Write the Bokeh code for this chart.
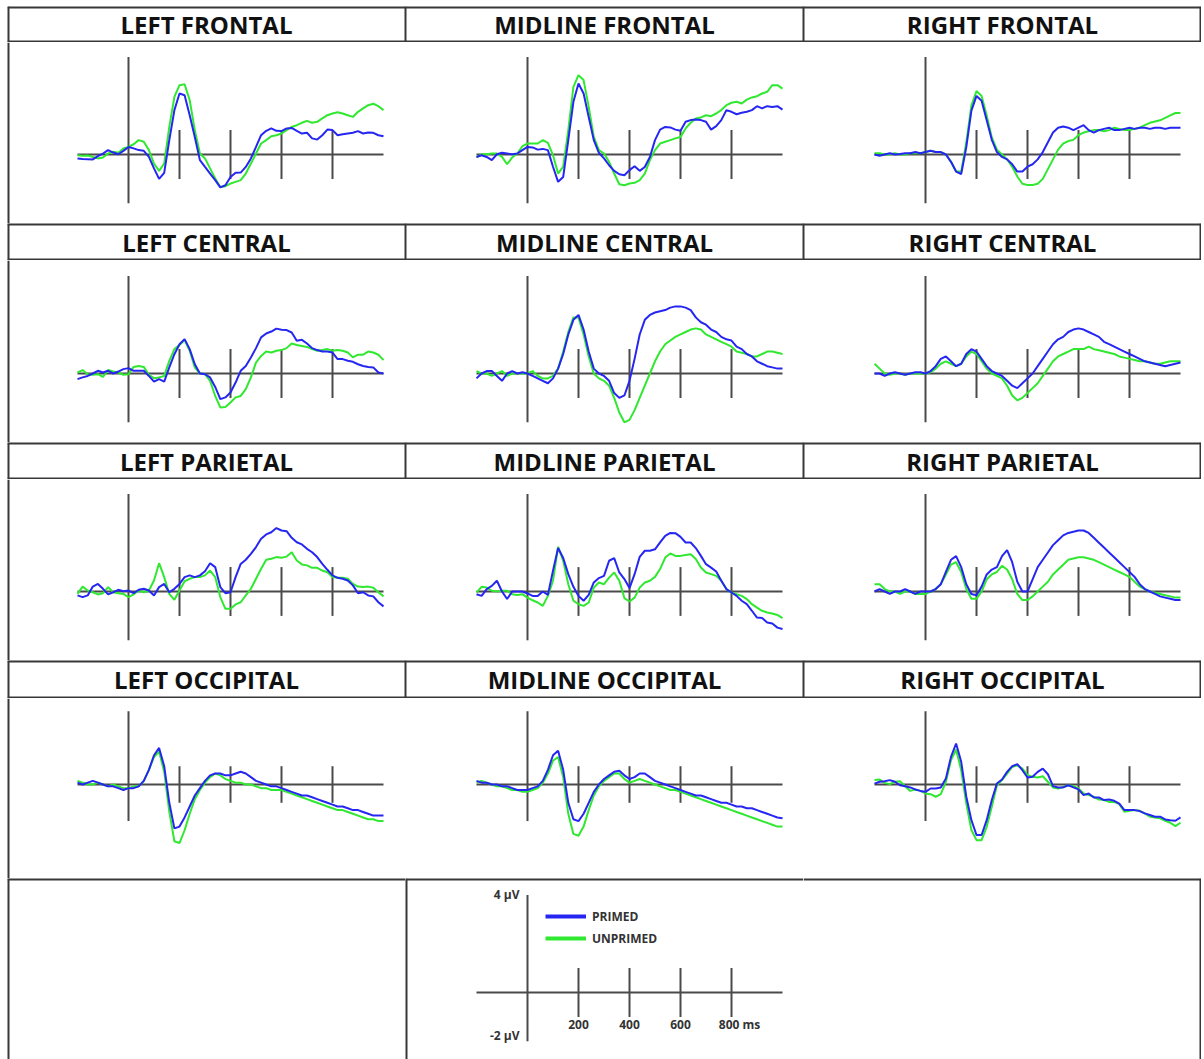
from bokeh.plotting import figure
from bokeh.layouts import column, row
from bokeh.models import Range1d, Legend, LegendItem, Spacer
from bokeh.core.properties import value
from bokeh.embed import file_html
from bokeh.resources import INLINE

# ---------------- data ----------------
times_ms = list(range(-200, 1001, 20))
tick_ms = [200, 400, 600, 800]
tick_labels = ["200", "400", "600", "800 ms"]
time_start, time_end = -200, 1000
volt_min, volt_max = -2, 4
tick_half = 1
volt_labels = ["4 \u00b5V", "-2 \u00b5V"]
series_names = ["PRIMED", "UNPRIMED"]

row_titles = [
    ["LEFT FRONTAL", "MIDLINE FRONTAL", "RIGHT FRONTAL"],
    ["LEFT CENTRAL", "MIDLINE CENTRAL", "RIGHT CENTRAL"],
    ["LEFT PARIETAL", "MIDLINE PARIETAL", "RIGHT PARIETAL"],
    ["LEFT OCCIPITAL", "MIDLINE OCCIPITAL", "RIGHT OCCIPITAL"],
]

lf_primed = [-0.16, -0.18, -0.19, -0.20, -0.07, 0.04, 0.18, 0.08, 0.01, 0.15,
             0.31, 0.25, 0.18, 0.15, -0.10, -0.57, -1.00, -0.75, 0.59, 1.82,
             2.50, 2.43, 1.61, 0.72, -0.23, -0.51, -0.78, -1.05, -1.35, -1.26,
             -0.92, -0.75, -0.74, -0.51, -0.16, 0.31, 0.79, 0.97, 1.07, 0.97,
             0.96, 1.07, 1.09, 0.97, 0.86, 0.89, 0.66, 0.61, 0.79, 1.02,
             1.00, 0.79, 0.83, 0.86, 0.89, 0.96, 0.86, 0.90, 0.89, 0.79, 0.75]
lf_unprimed = [-0.03, -0.05, -0.04, -0.10, -0.16, -0.12, 0.04, 0.11, 0.07, 0.25,
               0.31, 0.42, 0.59, 0.52, 0.18, -0.37, -0.67, -0.37, 1.13, 2.36,
               2.84, 2.88, 2.23, 1.00, 0.04, -0.16, -0.57, -0.98, -1.33, -1.30,
               -1.19, -1.12, -1.05, -0.78, -0.37, 0.04, 0.45, 0.59, 0.75, 0.79,
               0.86, 1.00, 1.13, 1.20, 1.30, 1.38, 1.30, 1.34, 1.48, 1.61,
               1.68, 1.73, 1.68, 1.61, 1.54, 1.75, 1.89, 2.02, 2.08, 1.98, 1.82]

mf_primed = [-0.10, -0.03, -0.10, -0.23, 0.01, 0.07, 0.04, 0.01, 0.04, 0.18,
             0.31, 0.29, 0.20, 0.23, 0.18, -0.50, -1.12, -0.92, 0.59, 2.16,
             2.91, 2.50, 1.54, 0.59, 0.07, -0.16, -0.44, -0.67, -0.81, -0.85,
             -0.64, -0.48, -0.67, -0.51, -0.10, 0.59, 1.02, 1.13, 1.11, 1.02,
             0.97, 1.34, 1.41, 1.43, 1.41, 1.34, 1.02, 1.16, 1.41, 1.82,
             1.75, 1.65, 1.71, 1.75, 1.82, 1.98, 1.89, 1.98, 1.95, 1.98, 1.84]
mf_unprimed = [-0.12, 0.01, 0.01, 0.04, 0.04, -0.10, -0.40, -0.12, 0.04, 0.34,
               0.45, 0.45, 0.45, 0.59, 0.48, -0.03, -0.78, -0.50, 1.00, 2.77,
               3.25, 3.05, 1.95, 0.72, 0.18, 0.04, -0.30, -0.78, -1.22, -1.26,
               -1.19, -1.16, -1.05, -0.78, -0.23, 0.18, 0.45, 0.52, 0.59, 0.66,
               0.72, 1.07, 1.30, 1.48, 1.52, 1.61, 1.57, 1.68, 1.82, 2.02,
               2.12, 2.16, 2.09, 2.25, 2.34, 2.39, 2.50, 2.57, 2.84, 2.84, 2.70]

rf_primed = [0.00, -0.05, 0.00, 0.05, 0.00, 0.02, 0.05, 0.05, 0.10, 0.05,
             0.10, 0.15, 0.10, 0.10, 0.00, -0.30, -0.70, -0.80, 0.30, 1.80,
             2.40, 2.20, 1.40, 0.60, 0.10, -0.10, -0.20, -0.40, -0.70, -0.70,
             -0.50, -0.40, -0.20, 0.10, 0.50, 0.90, 1.10, 1.15, 1.10, 1.00,
             1.10, 1.20, 1.00, 0.90, 1.00, 1.05, 1.10, 1.00, 1.00, 1.05,
             1.10, 1.05, 1.10, 1.10, 1.05, 1.10, 1.10, 1.05, 1.10, 1.10, 1.10]
rf_unprimed = [0.05, 0.05, 0.00, 0.00, 0.05, 0.00, 0.00, 0.05, 0.05, 0.05,
               0.10, 0.15, 0.10, 0.10, 0.00, -0.30, -0.70, -0.70, 0.50, 2.00,
               2.60, 2.40, 1.60, 0.70, 0.20, 0.00, -0.20, -0.50, -0.90, -1.20,
               -1.25, -1.25, -1.20, -1.00, -0.60, -0.20, 0.20, 0.45, 0.55, 0.60,
               0.80, 0.90, 0.95, 1.00, 1.00, 0.95, 1.00, 1.10, 1.05, 1.00,
               1.00, 1.05, 1.10, 1.20, 1.30, 1.35, 1.40, 1.50, 1.60, 1.70, 1.70]

lc_primed = [-0.23, -0.16, -0.10, 0.00, 0.11, 0.04, 0.11, 0.00, 0.08, 0.18,
             0.22, 0.11, 0.11, 0.11, -0.10, -0.33, -0.23, -0.33, 0.25, 0.79,
             1.20, 1.41, 1.00, 0.38, 0.00, -0.03, -0.16, -0.55, -1.05, -0.98,
             -0.78, -0.37, 0.11, 0.31, 0.66, 1.04, 1.48, 1.64, 1.72, 1.84,
             1.79, 1.78, 1.68, 1.34, 1.38, 1.23, 1.04, 0.96, 0.90, 0.90,
             0.86, 0.59, 0.59, 0.52, 0.48, 0.38, 0.31, 0.27, 0.25, 0.04, 0.00]
lc_unprimed = [0.04, 0.14, -0.03, -0.05, -0.03, -0.14, 0.14, 0.08, 0.04, -0.05,
               -0.03, 0.27, 0.31, 0.27, -0.05, -0.19, -0.16, -0.10, 0.52, 1.00,
               1.17, 1.37, 0.93, 0.25, 0.00, -0.03, -0.30, -0.92, -1.39, -1.37,
               -1.19, -0.98, -0.92, -0.64, -0.16, 0.45, 0.72, 0.90, 0.86, 0.93,
               0.96, 1.04, 1.23, 1.17, 1.13, 1.09, 1.00, 0.93, 0.96, 1.00,
               0.93, 0.96, 0.93, 0.86, 0.66, 0.77, 0.77, 0.90, 0.86, 0.77, 0.55]

mc_primed = [-0.20, 0.00, 0.10, 0.10, -0.10, -0.30, 0.00, 0.10, 0.00, 0.05,
             0.00, -0.10, -0.20, -0.30, -0.40, -0.20, 0.20, 0.80, 1.60, 2.20,
             2.40, 1.80, 0.90, 0.20, 0.00, -0.10, -0.30, -0.80, -1.00, -0.90,
             -0.30, 0.60, 1.60, 2.20, 2.40, 2.50, 2.55, 2.60, 2.70, 2.75,
             2.75, 2.70, 2.60, 2.30, 2.10, 2.00, 1.80, 1.70, 1.50, 1.40,
             1.35, 1.10, 1.00, 0.80, 0.70, 0.50, 0.40, 0.30, 0.25, 0.20, 0.20]
mc_unprimed = [0.10, 0.00, 0.00, -0.10, 0.00, 0.10, -0.10, 0.00, 0.00, 0.00,
               0.00, 0.10, -0.10, -0.20, -0.20, -0.10, 0.20, 0.90, 1.70, 2.30,
               2.30, 1.60, 0.70, 0.00, -0.20, -0.30, -0.50, -1.00, -1.60, -2.00,
               -1.90, -1.50, -1.00, -0.50, 0.00, 0.50, 0.90, 1.20, 1.35, 1.50,
               1.60, 1.70, 1.80, 1.85, 1.80, 1.60, 1.50, 1.40, 1.30, 1.20,
               1.10, 0.90, 0.85, 0.80, 0.70, 0.70, 0.80, 0.90, 0.90, 0.85, 0.80]

rc_primed = [0.00, 0.00, -0.10, 0.00, 0.05, 0.00, -0.05, 0.00, 0.05, 0.05,
             0.00, 0.10, 0.30, 0.60, 0.70, 0.50, 0.30, 0.40, 0.80, 1.00,
             0.90, 0.60, 0.30, 0.10, 0.00, -0.10, -0.30, -0.50, -0.60, -0.40,
             -0.20, 0.00, 0.30, 0.60, 0.90, 1.20, 1.40, 1.50, 1.70, 1.80,
             1.85, 1.80, 1.70, 1.60, 1.50, 1.30, 1.20, 1.10, 1.00, 0.90,
             0.80, 0.70, 0.60, 0.50, 0.45, 0.40, 0.35, 0.30, 0.35, 0.40, 0.45]
rc_unprimed = [0.40, 0.20, 0.00, -0.05, 0.00, 0.00, -0.05, 0.00, 0.00, 0.00,
               0.00, 0.05, 0.20, 0.40, 0.50, 0.40, 0.30, 0.40, 0.70, 0.90,
               0.80, 0.50, 0.20, 0.00, -0.10, -0.20, -0.50, -0.90, -1.10, -1.00,
               -0.80, -0.60, -0.40, -0.10, 0.20, 0.50, 0.70, 0.80, 0.90, 1.00,
               1.00, 1.00, 1.10, 1.00, 0.95, 0.90, 0.85, 0.80, 0.70, 0.65,
               0.60, 0.55, 0.50, 0.50, 0.45, 0.40, 0.40, 0.45, 0.50, 0.50, 0.50]

lp_primed = [-0.16, -0.23, -0.16, 0.20, 0.31, 0.11, -0.12, -0.03, 0.07, 0.01,
             0.04, -0.07, 0.07, 0.11, 0.04, -0.16, 0.18, 0.31, -0.03, 0.11,
             0.31, 0.59, 0.66, 0.59, 0.66, 0.83, 1.16, 1.00, 0.18, -0.07,
             -0.03, 0.59, 1.13, 1.30, 1.54, 1.82, 2.16, 2.34, 2.43, 2.60,
             2.50, 2.47, 2.20, 2.02, 1.93, 1.75, 1.61, 1.41, 1.13, 0.89,
             0.66, 0.56, 0.52, 0.45, 0.25, -0.07, -0.03, -0.16, -0.20, -0.44, -0.61]
lp_unprimed = [-0.10, 0.20, 0.04, -0.03, -0.12, -0.07, 0.18, -0.03, -0.07, -0.10,
               -0.23, -0.12, 0.04, -0.03, 0.04, 0.45, 1.16, 0.59, -0.10, -0.34,
               0.04, 0.42, 0.52, 0.59, 0.59, 0.66, 0.86, 0.59, -0.23, -0.71,
               -0.71, -0.53, -0.44, -0.16, 0.11, 0.52, 0.93, 1.30, 1.34, 1.41,
               1.38, 1.43, 1.61, 1.27, 1.11, 1.07, 0.97, 0.97, 0.86, 0.79,
               0.59, 0.56, 0.56, 0.52, 0.31, 0.20, 0.18, 0.20, 0.15, -0.03, -0.20]

mp_primed = [-0.11, -0.18, 0.10, 0.23, 0.44, 0.00, -0.31, 0.00, 0.00, 0.00,
             -0.08, -0.18, -0.18, 0.00, -0.14, 0.85, 1.78, 1.37, 0.71, 0.19,
             -0.18, -0.38, -0.14, 0.37, 0.55, 0.64, 1.26, 1.37, 0.78, 0.51,
             0.14, 0.71, 1.42, 1.67, 1.67, 1.73, 2.01, 2.28, 2.40, 2.39,
             2.24, 2.01, 2.01, 1.78, 1.46, 1.12, 0.98, 0.82, 0.44, 0.10,
             -0.04, -0.18, -0.38, -0.52, -0.79, -1.07, -1.09, -1.27, -1.31, -1.48, -1.54]
mp_unprimed = [-0.04, 0.19, 0.16, 0.03, 0.00, 0.03, 0.03, -0.11, -0.14, -0.11,
               -0.25, -0.36, -0.45, -0.59, -0.18, 0.44, 1.83, 1.26, 0.30, -0.38,
               -0.52, -0.59, -0.45, 0.16, 0.37, 0.30, 0.57, 0.78, 0.44, -0.27,
               -0.41, -0.25, 0.16, 0.37, 0.44, 0.60, 0.92, 1.39, 1.56, 1.46,
               1.46, 1.50, 1.53, 1.33, 0.98, 0.78, 0.71, 0.64, 0.44, 0.10,
               -0.04, -0.11, -0.18, -0.31, -0.52, -0.66, -0.79, -0.86, -0.90, -0.96, -1.09]

rp_primed = [0.00, 0.10, 0.00, -0.10, 0.00, 0.00, 0.10, 0.00, -0.10, 0.00,
             0.00, 0.00, 0.10, 0.30, 0.80, 1.30, 1.45, 1.00, 0.30, -0.10,
             -0.15, 0.20, 0.70, 0.90, 1.00, 1.45, 1.70, 1.20, 0.40, 0.00,
             0.00, 0.50, 1.00, 1.30, 1.60, 1.90, 2.10, 2.30, 2.40, 2.45,
             2.50, 2.50, 2.40, 2.20, 2.00, 1.80, 1.60, 1.40, 1.20, 1.00,
             0.80, 0.60, 0.30, 0.10, 0.00, -0.10, -0.20, -0.25, -0.30, -0.35, -0.35]
rp_unprimed = [0.30, 0.30, 0.10, 0.00, 0.00, -0.10, 0.00, 0.00, -0.10, -0.10,
               -0.10, 0.00, 0.10, 0.30, 0.70, 1.10, 1.20, 0.80, 0.10, -0.30,
               -0.30, 0.00, 0.50, 0.70, 0.80, 1.05, 0.90, 0.50, -0.10, -0.35,
               -0.35, -0.20, 0.00, 0.20, 0.40, 0.70, 0.90, 1.10, 1.30, 1.35,
               1.40, 1.40, 1.35, 1.30, 1.20, 1.10, 1.00, 0.90, 0.80, 0.70,
               0.60, 0.40, 0.20, 0.10, 0.00, -0.05, -0.10, -0.15, -0.20, -0.25, -0.25]

lo_primed = [0.10, 0.00, 0.10, 0.20, 0.10, 0.00, -0.10, -0.10, -0.20, -0.30,
             -0.20, -0.20, -0.10, 0.20, 0.80, 1.60, 2.00, 1.00, -1.00, -2.40,
             -2.30, -1.80, -1.20, -0.60, -0.20, 0.20, 0.50, 0.60, 0.60, 0.50,
             0.50, 0.60, 0.70, 0.60, 0.40, 0.20, 0.10, 0.00, -0.10, -0.10,
             -0.20, -0.30, -0.40, -0.50, -0.60, -0.60, -0.70, -0.80, -0.90, -1.00,
             -1.10, -1.20, -1.20, -1.30, -1.40, -1.40, -1.50, -1.60, -1.70, -1.70, -1.70]
lo_unprimed = [0.20, 0.10, 0.00, 0.00, 0.10, 0.00, -0.10, 0.00, -0.10, -0.20,
               -0.20, -0.10, -0.10, 0.20, 0.80, 1.50, 1.80, 0.70, -1.50, -3.10,
               -3.20, -2.50, -1.60, -0.80, -0.30, 0.10, 0.40, 0.60, 0.50, 0.30,
               0.20, 0.10, 0.10, 0.00, 0.00, -0.10, -0.20, -0.20, -0.30, -0.30,
               -0.30, -0.40, -0.50, -0.60, -0.70, -0.80, -0.90, -1.00, -1.10, -1.20,
               -1.30, -1.40, -1.40, -1.50, -1.60, -1.70, -1.80, -1.90, -1.90, -2.00, -2.00]

mo_primed = [0.20, 0.10, 0.10, 0.00, 0.00, -0.10, -0.10, -0.20, -0.30, -0.30,
             -0.30, -0.20, -0.10, 0.20, 0.80, 1.60, 1.85, 0.80, -1.00, -1.90,
             -2.00, -1.60, -1.00, -0.40, 0.00, 0.30, 0.50, 0.70, 0.75, 0.50,
             0.30, 0.40, 0.60, 0.60, 0.40, 0.20, 0.10, 0.00, -0.10, -0.20,
             -0.30, -0.40, -0.50, -0.60, -0.60, -0.70, -0.80, -0.90, -1.00, -1.00,
             -1.10, -1.20, -1.20, -1.30, -1.30, -1.40, -1.50, -1.60, -1.70, -1.80, -1.85]
mo_unprimed = [0.10, 0.20, 0.10, 0.00, -0.10, -0.10, -0.20, -0.30, -0.30, -0.40,
               -0.40, -0.30, -0.20, 0.10, 0.60, 1.30, 1.50, 0.40, -1.60, -2.70,
               -2.80, -2.30, -1.40, -0.60, -0.10, 0.20, 0.40, 0.60, 0.60, 0.30,
               0.10, 0.20, 0.30, 0.20, 0.10, 0.00, -0.10, -0.20, -0.30, -0.30,
               -0.40, -0.50, -0.60, -0.70, -0.80, -0.90, -1.00, -1.10, -1.20, -1.30,
               -1.40, -1.50, -1.60, -1.70, -1.80, -1.90, -2.00, -2.10, -2.20, -2.30, -2.30]

ro_primed = [0.05, 0.15, 0.18, 0.24, 0.15, -0.04, -0.09, -0.16, -0.27, -0.35,
             -0.40, -0.22, -0.22, -0.16, 0.33, 1.51, 2.24, 1.24, -0.67, -1.95,
             -2.76, -2.76, -1.95, -0.85, 0.05, 0.27, 0.69, 1.00, 1.11, 0.78,
             0.38, 0.42, 0.69, 0.87, 0.56, -0.09, -0.16, -0.16, -0.04, -0.16,
             -0.27, -0.58, -0.49, -0.71, -0.71, -0.85, -0.82, -0.89, -1.04, -1.40,
             -1.40, -1.40, -1.45, -1.58, -1.67, -1.76, -1.76, -1.91, -1.95, -1.98, -1.80]
ro_unprimed = [0.24, 0.27, 0.09, 0.02, 0.15, 0.18, -0.09, -0.35, -0.27, -0.35,
               -0.49, -0.53, -0.67, -0.53, 0.15, 1.33, 1.91, 0.78, -1.04, -2.49,
               -3.04, -3.04, -2.31, -1.22, -0.04, 0.24, 0.60, 0.96, 1.05, 0.87,
               0.51, 0.42, 0.38, 0.45, 0.15, -0.16, -0.22, -0.13, -0.04, -0.09,
               -0.22, -0.49, -0.58, -0.67, -0.82, -0.85, -0.95, -0.95, -1.07, -1.49,
               -1.44, -1.40, -1.44, -1.58, -1.76, -1.80, -1.85, -1.98, -2.09, -2.27, -2.09]

panel_series = {
    "LEFT FRONTAL": (lf_primed, lf_unprimed),
    "MIDLINE FRONTAL": (mf_primed, mf_unprimed),
    "RIGHT FRONTAL": (rf_primed, rf_unprimed),
    "LEFT CENTRAL": (lc_primed, lc_unprimed),
    "MIDLINE CENTRAL": (mc_primed, mc_unprimed),
    "RIGHT CENTRAL": (rc_primed, rc_unprimed),
    "LEFT PARIETAL": (lp_primed, lp_unprimed),
    "MIDLINE PARIETAL": (mp_primed, mp_unprimed),
    "RIGHT PARIETAL": (rp_primed, rp_unprimed),
    "LEFT OCCIPITAL": (lo_primed, lo_unprimed),
    "MIDLINE OCCIPITAL": (mo_primed, mo_unprimed),
    "RIGHT OCCIPITAL": (ro_primed, ro_unprimed),
}

# ---------------- style / layout ----------------
BLUE = "#2626f2"
GREEN = "#30e830"
AXIS = "#4a4a4a"
BORDER = "#383838"
FONT = "Open Sans"

PAD_LEFT = 7
PAD_TOP = 6
COL_W = 398
HEAD_H = [36, 37, 37, 38]
PLOT_H = [181, 182, 181, 180]
LEG_H = 181
PX_PER_MS = 0.255
PX_PER_UV = [24.4, 24.4, 24.4, 18.3]
BASE_FROM_TOP = [112, 113, 112, 86]
ZERO_FROM_LEFT = [121, 122, 122]
LEG_PX_PER_UV = 24.4
LEG_BASE_FROM_TOP = 114


def blank(w, h, xr, yr):
    p = figure(width=w, height=h, x_range=xr, y_range=yr,
               output_backend="svg", toolbar_location=None,
               min_border=0, x_axis_location=None, y_axis_location=None)
    p.grid.visible = False
    p.outline_line_color = None
    p.background_fill_color = "white"
    p.border_fill_color = "white"
    return p


def x_range_for(col):
    z = ZERO_FROM_LEFT[col]
    return Range1d(-z / PX_PER_MS, (COL_W - z) / PX_PER_MS)


def draw_axes(p):
    p.segment(x0=[time_start], y0=[0], x1=[time_end], y1=[0],
              line_color=AXIS, line_width=2)
    p.segment(x0=[0], y0=[volt_min], x1=[0], y1=[volt_max],
              line_color=AXIS, line_width=2)
    p.segment(x0=tick_ms, y0=[-tick_half] * len(tick_ms), x1=tick_ms,
              y1=[tick_half] * len(tick_ms), line_color=AXIS, line_width=2)


def header_row(titles, h):
    n = len(titles)
    p = blank(COL_W * n, h, Range1d(0, n), Range1d(0, 1))
    xs = list(range(n + 1))
    widths = [4 if (x == 0 or x == n) else 2 for x in xs]
    p.segment(x0=xs, y0=[0] * len(xs), x1=xs, y1=[1] * len(xs),
              line_color=BORDER, line_width=widths)
    p.segment(x0=[0, 0], y0=[0, 1], x1=[n, n], y1=[0, 1],
              line_color=BORDER, line_width=4)
    p.text(x=[i + 0.5 for i in range(n)], y=[0.5] * n, text=titles,
           text_font=value(FONT), text_font_style="bold",
           text_font_size="24px", text_align="center",
           text_baseline="middle", text_color="#111111")
    return p


def panel(title, r, c):
    s = PX_PER_UV[r]
    b = BASE_FROM_TOP[r]
    h = PLOT_H[r]
    yr = Range1d(-(h - b) / s, b / s)
    xr = x_range_for(c)
    p = blank(COL_W, h, xr, yr)
    if c == 0:
        p.segment(x0=[xr.start], y0=[yr.start], x1=[xr.start], y1=[yr.end],
                  line_color=BORDER, line_width=4)
    draw_axes(p)
    primed, unprimed = panel_series[title]
    p.line(times_ms, unprimed, line_color=GREEN, line_width=2)
    p.line(times_ms, primed, line_color=BLUE, line_width=2)
    return p


rows = []
for r, titles in enumerate(row_titles):
    rows.append(header_row(titles, HEAD_H[r]))
    rows.append(row(*[panel(t, r, c) for c, t in enumerate(titles)]))

# legend row
s = LEG_PX_PER_UV
yr_leg = Range1d(-(LEG_H - LEG_BASE_FROM_TOP) / s, LEG_BASE_FROM_TOP / s)

left = blank(COL_W, LEG_H, Range1d(0, 1), Range1d(0, 1))
left.segment(x0=[0, 0], y0=[1, 0], x1=[1, 0], y1=[1, 1],
             line_color=BORDER, line_width=4)

right = blank(COL_W, LEG_H, Range1d(0, 1), Range1d(0, 1))
right.segment(x0=[0, 1], y0=[1, 0], x1=[1, 1], y1=[1, 1],
              line_color=BORDER, line_width=4)

xr_leg = x_range_for(1)
key = blank(COL_W, LEG_H, xr_leg, yr_leg)
key.segment(x0=[xr_leg.start, xr_leg.start], y0=[yr_leg.end, yr_leg.start],
            x1=[xr_leg.end, xr_leg.start], y1=[yr_leg.end, yr_leg.end],
            line_color=BORDER, line_width=4)
draw_axes(key)
lab_y = -tick_half - 8 / s
key.text(x=tick_ms[:3], y=[lab_y] * 3, text=tick_labels[:3],
         text_font=value(FONT), text_font_style="bold", text_font_size="12px",
         text_align="center", text_baseline="middle", text_color="#333333")
key.text(x=tick_ms[3:], y=[lab_y], text=tick_labels[3:], x_offset=8,
         text_font=value(FONT), text_font_style="bold", text_font_size="12px",
         text_align="center", text_baseline="middle", text_color="#333333")
key.text(x=[0, 0], y=[volt_max, volt_min + 6 / s], text=volt_labels,
         x_offset=-8, text_font=value(FONT), text_font_style="bold",
         text_font_size="12px", text_align="right", text_baseline="middle",
         text_color="#333333")
r_p = key.line(x=[float("nan")], y=[float("nan")], line_color=BLUE, line_width=4)
r_u = key.line(x=[float("nan")], y=[float("nan")], line_color=GREEN, line_width=4)
leg = Legend(items=[LegendItem(label=series_names[0], renderers=[r_p]),
                    LegendItem(label=series_names[1], renderers=[r_u])],
             location=(140, LEG_H - 70), padding=0, margin=0, spacing=2,
             glyph_width=41, glyph_height=20, label_height=20,
             label_standoff=6, border_line_color=None,
             background_fill_alpha=0,
             label_text_font=FONT, label_text_font_style="bold",
             label_text_font_size="12px", label_text_color="#333333")
key.add_layout(leg)

rows.append(row(left, key, right))
grid = column(*rows)
layout = column(Spacer(height=PAD_TOP), row(Spacer(width=PAD_LEFT), grid))

open("out.html", "w").write(file_html(layout, INLINE))
